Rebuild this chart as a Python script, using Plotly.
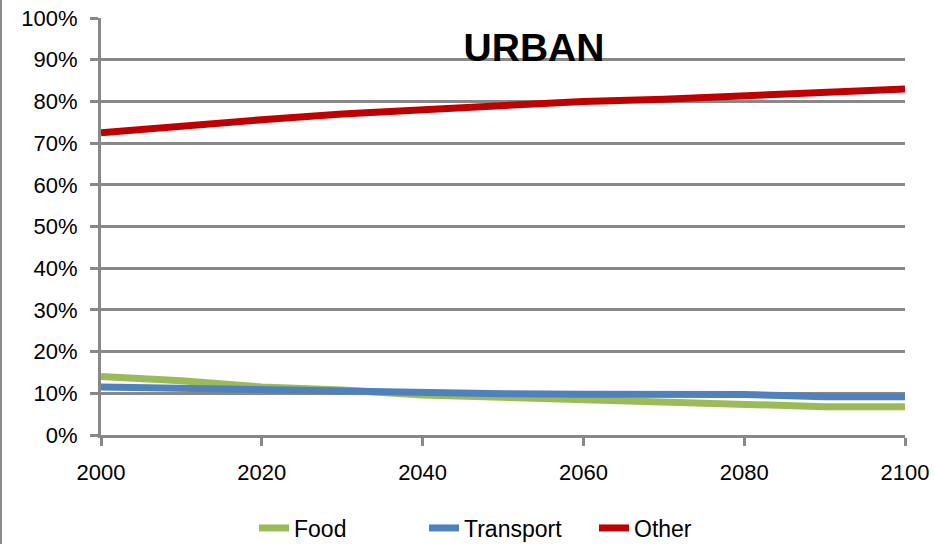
import plotly.graph_objects as go

# Share of urban expenditure by category, 2000-2100 (%)
years = [2000, 2010, 2020, 2030, 2040, 2050, 2060, 2070, 2080, 2090, 2100]
food = [14.0, 13.0, 11.5, 10.8, 9.6, 9.1, 8.6, 7.8, 7.3, 6.8, 6.8]
transport = [11.5, 11.1, 10.8, 10.5, 10.0, 9.9, 9.8, 9.8, 9.7, 9.2, 9.2]
other = [72.5, 74.2, 75.6, 77.0, 78.1, 79.2, 80.0, 80.5, 81.3, 82.0, 83.0]

series = [
    ("Food", food, "#9BBB59"),
    ("Transport", transport, "#4F81BD"),
    ("Other", other, "#C00000"),
]

FONT = "Liberation Sans, Arial, sans-serif"
GRID = "#888888"

fig = go.Figure()
for name, vals, color in series:
    fig.add_trace(go.Scatter(
        x=years, y=vals, name=name, mode="lines",
        line=dict(color=color, width=7),
    ))

W, H = 935, 544
ML, MR, MT, MB = 101, 30, 18, 109
pw, ph = W - ML - MR, H - MT - MB

fig.update_layout(
    width=W, height=H,
    margin=dict(l=ML, r=MR, t=MT, b=MB, pad=0, autoexpand=False),
    paper_bgcolor="white", plot_bgcolor="white",
    font=dict(family=FONT, size=22, color="black"),
    title=dict(
        text="<b>URBAN</b>", x=534 / W, xanchor="center",
        y=1 - 47 / H, yanchor="middle",
        font=dict(family=FONT, size=39, color="black"),
    ),
    xaxis=dict(
        range=[2000, 2100], tickmode="linear", tick0=2000, dtick=20,
        showgrid=False, showline=True, linecolor=GRID, linewidth=3,
        ticks="outside", ticklen=8, tickwidth=3, tickcolor=GRID,
        zeroline=False, tickfont=dict(size=22), ticklabelstandoff=8,
        automargin=False,
    ),
    yaxis=dict(
        range=[0, 100], tickmode="linear", tick0=0, dtick=10,
        ticksuffix="%", showgrid=True, gridcolor=GRID, gridwidth=3,
        showline=True, linecolor=GRID, linewidth=3,
        ticks="outside", ticklen=8, tickwidth=3, tickcolor=GRID,
        zeroline=False, tickfont=dict(size=22), ticklabelstandoff=8,
        automargin=False,
    ),
    legend=dict(
        orientation="h", x=0.5 + 6 / pw, xanchor="center",
        yref="container", y=1 - 528 / H, yanchor="middle",
        font=dict(size=23), traceorder="normal",
        entrywidth=125, entrywidthmode="pixels",
        bgcolor="rgba(0,0,0,0)",
    ),
    showlegend=True,
)

# thin frame edge on the left of the canvas
fig.add_shape(
    type="line", xref="paper", yref="paper",
    x0=-(ML - 1) / pw, x1=-(ML - 1) / pw, y0=-MB / ph, y1=1 + MT / ph,
    line=dict(color="#8c8c8c", width=2),
)

fig.write_html("out.html")
